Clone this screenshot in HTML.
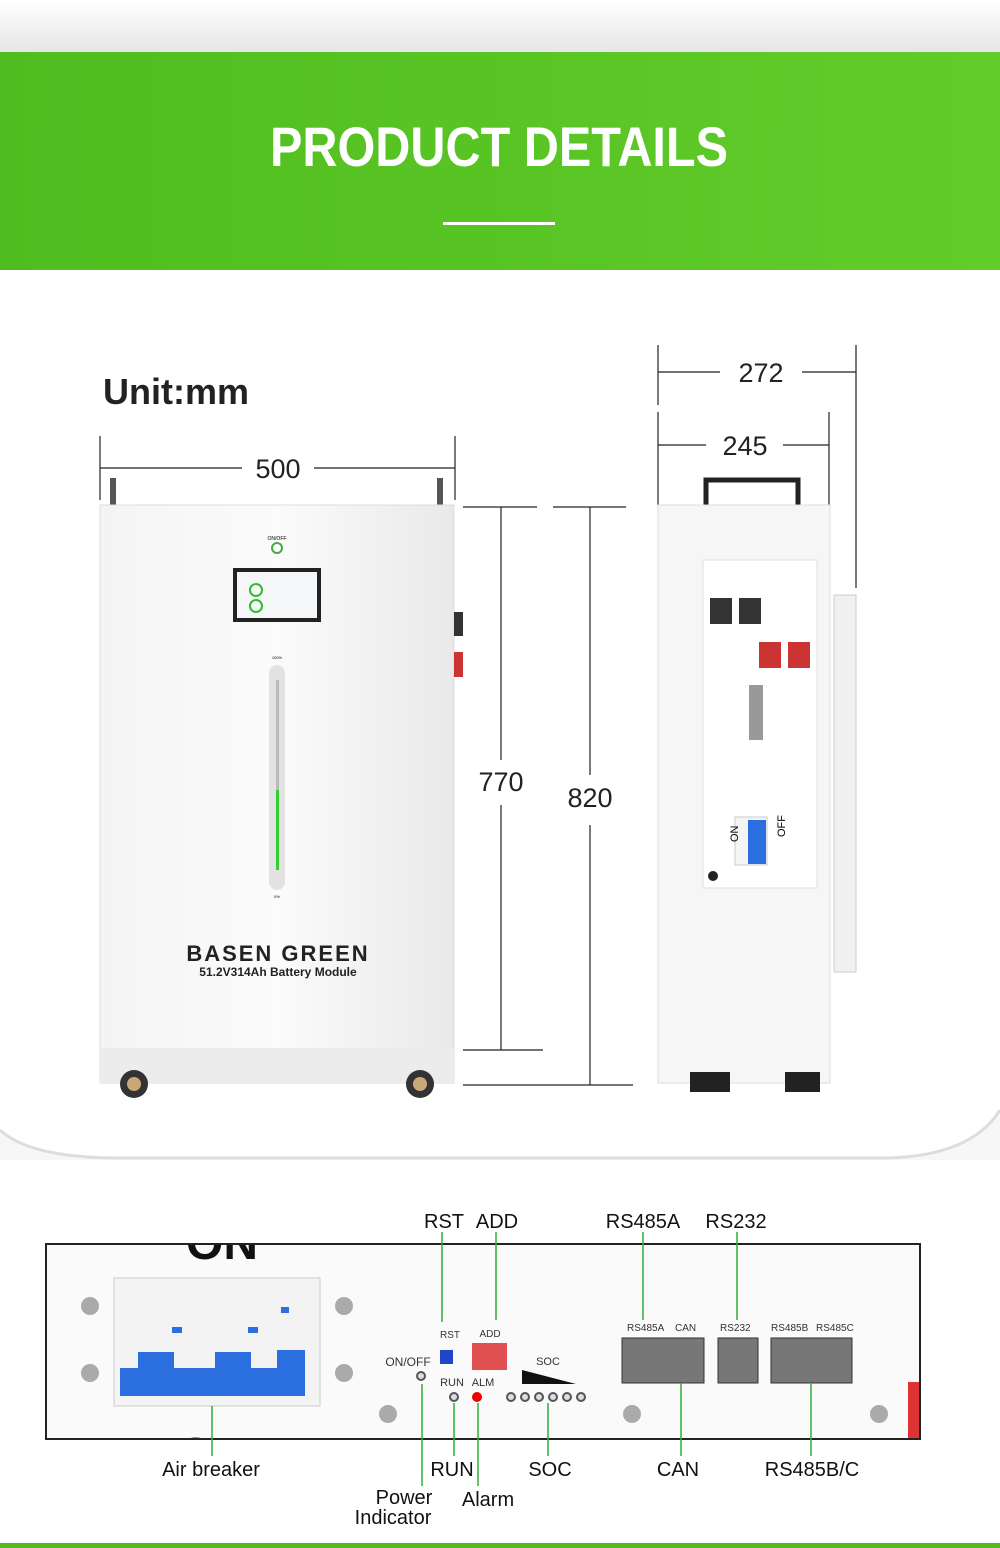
<!DOCTYPE html>
<html><head><meta charset="utf-8"><style>
html,body{margin:0;padding:0;background:#fff}
svg{display:block}
text{font-family:"Liberation Sans",sans-serif}
</style></head><body>
<svg width="1000" height="1548" viewBox="0 0 1000 1548" xmlns="http://www.w3.org/2000/svg">
<defs>
<linearGradient id="g" x1="0" x2="1"><stop offset="0" stop-color="#4fbd1f"/><stop offset="1" stop-color="#62cc2a"/></linearGradient>
<linearGradient id="top" x1="0" y1="0" x2="0" y2="1"><stop offset="0" stop-color="#fff"/><stop offset="1" stop-color="#e6e6e6"/></linearGradient>
<linearGradient id="cab" x1="0" x2="1"><stop offset="0" stop-color="#f4f4f4"/><stop offset=".5" stop-color="#fbfbfb"/><stop offset="1" stop-color="#e9e9e9"/></linearGradient>
<clipPath id="pc"><rect x="47" y="1245" width="872" height="193"/></clipPath>
</defs>
<rect width="1000" height="52" fill="url(#top)"/>
<rect y="52" width="1000" height="218" fill="url(#g)"/>
<text x="499" y="166" font-size="56" font-weight="bold" fill="#fff" text-anchor="middle" textLength="458" lengthAdjust="spacingAndGlyphs">PRODUCT DETAILS</text>
<rect x="443" y="222" width="112" height="3" fill="#fff"/>
<path d="M0 1130 Q30 1158 120 1158 L880 1158 Q970 1158 1000 1110 L1000 1548 L0 1548 Z" fill="#f7f7f7"/>
<path d="M0 1130 Q30 1158 120 1158 L880 1158 Q970 1158 1000 1110" fill="none" stroke="#ddd" stroke-width="3"/>
<rect y="1160" width="1000" height="388" fill="#fff"/>
<rect y="1543" width="1000" height="5" fill="#4fbd1f"/>

<text x="103" y="404" font-size="36" fill="#222" font-weight="bold" style="font-weight:600">Unit:mm</text>
<g stroke="#222" stroke-width="1.2">
<line x1="100" y1="436" x2="100" y2="500"/><line x1="455" y1="436" x2="455" y2="500"/>
<line x1="100" y1="468" x2="242" y2="468"/><line x1="314" y1="468" x2="455" y2="468"/>
<line x1="463" y1="507" x2="537" y2="507"/><line x1="463" y1="1050" x2="543" y2="1050"/>
<line x1="501" y1="507" x2="501" y2="760"/><line x1="501" y1="805" x2="501" y2="1050"/>
<line x1="553" y1="507" x2="626" y2="507"/><line x1="463" y1="1085" x2="633" y2="1085"/>
<line x1="590" y1="507" x2="590" y2="775"/><line x1="590" y1="825" x2="590" y2="1085"/>
<line x1="658" y1="345" x2="658" y2="405"/><line x1="856" y1="345" x2="856" y2="588"/>
<line x1="658" y1="372" x2="720" y2="372"/><line x1="802" y1="372" x2="856" y2="372"/>
<line x1="658" y1="412" x2="658" y2="505"/><line x1="829" y1="412" x2="829" y2="505"/>
<line x1="658" y1="445" x2="706" y2="445"/><line x1="783" y1="445" x2="829" y2="445"/>
</g>
<text x="278" y="478" font-size="27" fill="#222" text-anchor="middle">500</text>
<text x="501" y="791" font-size="27" fill="#222" text-anchor="middle">770</text>
<text x="590" y="807" font-size="27" fill="#222" text-anchor="middle">820</text>
<text x="761" y="382" font-size="27" fill="#222" text-anchor="middle">272</text>
<text x="745" y="455" font-size="27" fill="#222" text-anchor="middle">245</text>

<rect x="110" y="478" width="6" height="28" fill="#555"/><rect x="437" y="478" width="6" height="28" fill="#555"/>
<rect x="100" y="505" width="354" height="578" fill="url(#cab)" stroke="#ddd"/>
<rect x="454" y="612" width="9" height="24" fill="#333"/><rect x="454" y="652" width="9" height="25" fill="#c33"/>
<text x="277" y="540" font-size="5" text-anchor="middle">ON/OFF</text>
<circle cx="277" cy="548" r="5" fill="none" stroke="#4a4" stroke-width="2"/>
<rect x="233" y="568" width="88" height="54" fill="#222"/><rect x="237" y="572" width="80" height="46" fill="#f4f6f8"/>
<circle cx="256" cy="590" r="6" fill="none" stroke="#3b3" stroke-width="2"/><circle cx="256" cy="606" r="6" fill="none" stroke="#3b3" stroke-width="2"/>
<text x="277" y="659" font-size="4" text-anchor="middle">100%</text>
<rect x="269" y="665" width="16" height="225" rx="8" fill="#e2e2e2"/>
<rect x="276" y="680" width="3" height="190" fill="#bbb"/><rect x="276" y="790" width="3" height="80" fill="#3c3"/>
<text x="277" y="898" font-size="4" text-anchor="middle">0%</text>
<text x="278" y="961" font-size="22" font-weight="bold" fill="#222" text-anchor="middle" letter-spacing="2">BASEN GREEN</text>
<text x="278" y="976" font-size="12" font-weight="bold" fill="#222" text-anchor="middle">51.2V314Ah Battery Module</text>
<rect x="100" y="1048" width="354" height="35" fill="#ececec"/>
<circle cx="134" cy="1084" r="14" fill="#333"/><circle cx="420" cy="1084" r="14" fill="#333"/>
<circle cx="134" cy="1084" r="7" fill="#c9a877"/><circle cx="420" cy="1084" r="7" fill="#c9a877"/>

<path d="M706 505 V480 H798 V505" fill="none" stroke="#222" stroke-width="5"/>
<rect x="658" y="505" width="172" height="578" fill="#f6f6f6" stroke="#ddd"/>
<rect x="703" y="560" width="114" height="328" fill="#fff" stroke="#e0e0e0"/>
<rect x="834" y="595" width="22" height="377" fill="#f0f0f0" stroke="#ccc"/>
<rect x="710" y="598" width="22" height="26" fill="#333"/><rect x="739" y="598" width="22" height="26" fill="#333"/>
<rect x="759" y="642" width="22" height="26" fill="#c33"/><rect x="788" y="642" width="22" height="26" fill="#c33"/>
<rect x="749" y="685" width="14" height="55" fill="#999"/>
<rect x="735" y="817" width="32" height="48" fill="#f5f5f5" stroke="#ccc"/><rect x="748" y="820" width="18" height="44" fill="#2a6ee0"/>
<text x="730" y="850" font-size="11" transform="rotate(-90 730 842)">ON</text>
<text x="782" y="850" font-size="11" transform="rotate(-90 777 842)">OFF</text>
<circle cx="713" cy="876" r="5" fill="#222"/>
<rect x="690" y="1072" width="40" height="20" fill="#222"/><rect x="785" y="1072" width="35" height="20" fill="#222"/>

<rect x="46" y="1244" width="874" height="195" fill="#fafafa" stroke="#222" stroke-width="2"/>
<rect x="908" y="1382" width="11" height="56" fill="#d33"/>
<g clip-path="url(#pc)">
<text x="222" y="1259" font-size="48" font-weight="bold" fill="#111" text-anchor="middle">ON</text>
<text x="225" y="1471" font-size="48" font-weight="bold" fill="#111" text-anchor="middle">OFF</text>
</g>
<rect x="114" y="1278" width="206" height="128" fill="#f3f3f3" stroke="#ccc"/>
<rect x="120" y="1368" width="185" height="28" fill="#2a6ee0"/>
<rect x="138" y="1352" width="36" height="20" fill="#2a6ee0"/><rect x="215" y="1352" width="36" height="20" fill="#2a6ee0"/><rect x="277" y="1350" width="28" height="40" fill="#2a6ee0"/>
<rect x="172" y="1327" width="10" height="6" fill="#2a6ee0"/><rect x="248" y="1327" width="10" height="6" fill="#2a6ee0"/><rect x="281" y="1307" width="8" height="6" fill="#2a6ee0"/>
<g fill="#aaa"><circle cx="90" cy="1306" r="9"/><circle cx="90" cy="1373" r="9"/><circle cx="344" cy="1306" r="9"/><circle cx="344" cy="1373" r="9"/><circle cx="388" cy="1414" r="9"/><circle cx="632" cy="1414" r="9"/><circle cx="879" cy="1414" r="9"/></g>
<text x="408" y="1366" font-size="12" fill="#333" text-anchor="middle">ON/OFF</text>
<circle cx="421" cy="1376" r="4" fill="#ddd" stroke="#555" stroke-width="2"/>
<text x="450" y="1338" font-size="10" fill="#333" text-anchor="middle">RST</text>
<text x="490" y="1337" font-size="10" fill="#333" text-anchor="middle">ADD</text>
<rect x="440" y="1350" width="13" height="14" fill="#1f45c8"/>
<rect x="472" y="1343" width="35" height="27" fill="#e05050"/>
<text x="452" y="1386" font-size="11" fill="#333" text-anchor="middle">RUN</text>
<text x="483" y="1386" font-size="11" fill="#333" text-anchor="middle">ALM</text>
<circle cx="454" cy="1397" r="4" fill="#ddd" stroke="#555" stroke-width="2"/><circle cx="477" cy="1397" r="5" fill="#e00"/>
<text x="548" y="1365" font-size="11" fill="#333" text-anchor="middle">SOC</text>
<path d="M522 1370 L522 1384 L576 1384 Z" fill="#111"/>
<g fill="#ddd" stroke="#555" stroke-width="2"><circle cx="511" cy="1397" r="4"/><circle cx="525" cy="1397" r="4"/><circle cx="539" cy="1397" r="4"/><circle cx="553" cy="1397" r="4"/><circle cx="567" cy="1397" r="4"/><circle cx="581" cy="1397" r="4"/></g>
<g font-size="10" fill="#333"><text x="627" y="1331">RS485A</text><text x="675" y="1331">CAN</text><text x="720" y="1331">RS232</text><text x="771" y="1331">RS485B</text><text x="816" y="1331">RS485C</text></g>
<rect x="622" y="1338" width="82" height="45" fill="#777" stroke="#333"/>
<rect x="718" y="1338" width="40" height="45" fill="#777" stroke="#333"/>
<rect x="771" y="1338" width="81" height="45" fill="#777" stroke="#333"/>
<g stroke="#2fae3a" stroke-width="1.5">
<line x1="442" y1="1232" x2="442" y2="1322"/><line x1="496" y1="1232" x2="496" y2="1320"/>
<line x1="643" y1="1232" x2="643" y2="1320"/><line x1="737" y1="1232" x2="737" y2="1320"/>
<line x1="212" y1="1406" x2="212" y2="1456"/><line x1="422" y1="1384" x2="422" y2="1486"/>
<line x1="454" y1="1403" x2="454" y2="1456"/><line x1="478" y1="1403" x2="478" y2="1486"/>
<line x1="548" y1="1403" x2="548" y2="1456"/><line x1="681" y1="1383" x2="681" y2="1456"/><line x1="811" y1="1383" x2="811" y2="1456"/>
</g>
<g font-size="20" fill="#111" text-anchor="middle">
<text x="444" y="1228">RST</text><text x="497" y="1228">ADD</text><text x="643" y="1228">RS485A</text><text x="736" y="1228">RS232</text>
<text x="211" y="1476">Air breaker</text><text x="452" y="1476">RUN</text><text x="550" y="1476">SOC</text><text x="678" y="1476">CAN</text><text x="812" y="1476">RS485B/C</text>
<text x="404" y="1504">Power</text><text x="393" y="1524">Indicator</text><text x="488" y="1506">Alarm</text>
</g>
</svg>
</body></html>
